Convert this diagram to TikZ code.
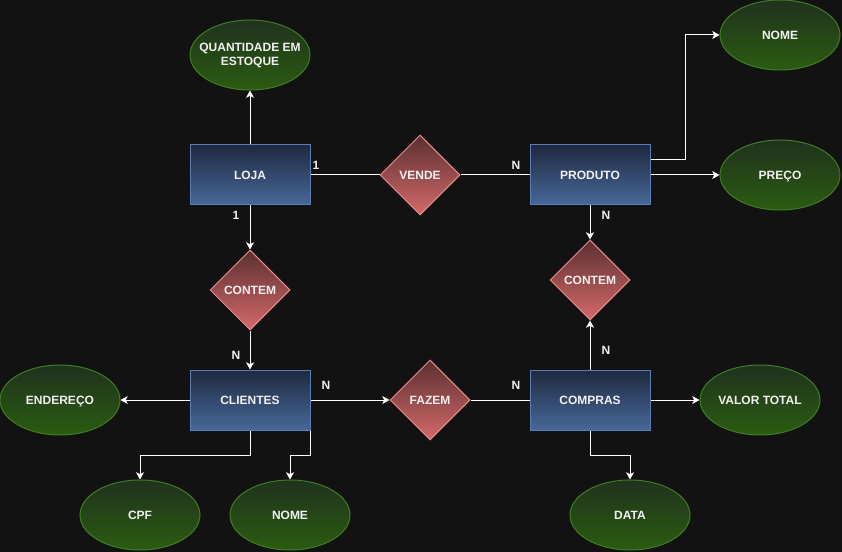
\documentclass[tikz,border=0pt]{standalone}
\usepackage{fontspec}
\setmainfont{Liberation Sans}
\usetikzlibrary{shapes.geometric,arrows.meta}
\definecolor{bgc}{HTML}{121212}
\definecolor{txt}{HTML}{F0F0F0}
\definecolor{entTop}{HTML}{1E2A3F}
\definecolor{entBot}{HTML}{48689A}
\definecolor{entLine}{HTML}{5A7DB3}
\definecolor{attTop}{HTML}{1F321E}
\definecolor{attBot}{HTML}{2B5C10}
\definecolor{attLine}{HTML}{3F7D22}
\definecolor{relTop}{HTML}{5C3030}
\definecolor{relBot}{HTML}{D4696A}
\definecolor{relLine}{HTML}{E68B89}
\tikzset{
  txtfont/.style={text=txt, font=\bfseries\fontsize{9}{10.5}\selectfont},
  lbl/.style={txtfont, align=center, text height=6.5pt, text depth=0pt},
  entity/.style={lbl, rectangle, draw=entLine, line width=0.75pt, top color=entTop, bottom color=entBot, minimum width=90pt, minimum height=45pt, inner sep=0pt},
  attrib/.style={lbl, ellipse, draw=attLine, line width=0.75pt, top color=attTop, bottom color=attBot, minimum width=90pt, minimum height=52.5pt, inner sep=0pt},
  relation/.style={lbl, diamond, aspect=1, draw=relLine, line width=0.75pt, top color=relTop, bottom color=relBot, minimum width=60pt, minimum height=60pt, inner sep=0pt},
  card/.style={txtfont, inner sep=0pt},
  link/.style={draw=white, line width=0.75pt},
  arr/.style={link, -{Stealth[length=5.5pt,width=6pt,inset=1.5pt]}}
}
\begin{document}
\begin{tikzpicture}[x=0.75pt,y=-0.75pt]
\fill[bgc] (0,0) rectangle (842,552);
\useasboundingbox (0,0) rectangle (842,552);

% entities
\node[entity] (loja) at (250,175) {LOJA};
\node[entity] (produto) at (590,175) {PRODUTO};
\node[entity] (clientes) at (250,400) {CLIENTES};
\node[entity] (compras) at (590,400) {COMPRAS};

% relations
\node[relation] (vende) at (420,175) {VENDE};
\node[relation] (contemL) at (250,290) {CONTEM};
\node[relation] (contemR) at (590,280) {CONTEM};
\node[relation] (fazem) at (430,400) {FAZEM};

% attributes
\node[attrib, label={[txtfont, align=center, inner sep=0pt]center:QUANTIDADE EM\\ESTOQUE}] (qtd) at (250,55) {};
\node[attrib] (nomeP) at (780,35) {NOME};
\node[attrib] (preco) at (780,175) {PREÇO};
\node[attrib] (endereco) at (60,400) {ENDEREÇO};
\node[attrib] (valor) at (760,400) {VALOR TOTAL};
\node[attrib] (cpf) at (140,515) {CPF};
\node[attrib] (nomeC) at (290,515) {NOME};
\node[attrib] (data) at (630,515) {DATA};

% connectors
\draw[link] (loja) -- (vende);
\draw[link] (vende) -- (produto);
\draw[arr] (loja) -- (qtd);
\draw[arr] (loja) -- (contemL);
\draw[arr] (contemL) -- (clientes);
\draw[arr] (clientes) -- (endereco);
\draw[arr] (clientes) -- (fazem);
\draw[link] (fazem) -- (compras);
\draw[arr] (compras) -- (valor);
\draw[arr] (compras) -- (contemR);
\draw[arr] (produto) -- (contemR);
\draw[arr] (produto) -- (preco);
\draw[arr] ([yshift=11.25pt]produto.east) -- ++(35,0) |- (nomeP.west);
\draw[arr] (compras.south) -- ++(0,25) -| (data.north);
\draw[arr] (clientes.south) -- ++(0,25) -| (cpf.north);
\draw[arr] (clientes.south east) -- ++(0,25) -| (nomeC.north);

% cardinalities
\node[card] (c1) at (316,165) {1};
\node[card] (c2) at (236,215) {1};
\node[card] (c3) at (516,165) {N};
\node[card] (c4) at (606,215) {N};
\node[card] (c5) at (606,350) {N};
\node[card] (c6) at (236,355) {N};
\node[card] (c7) at (326,385) {N};
\node[card] (c8) at (516,385) {N};
\end{tikzpicture}
\end{document}
